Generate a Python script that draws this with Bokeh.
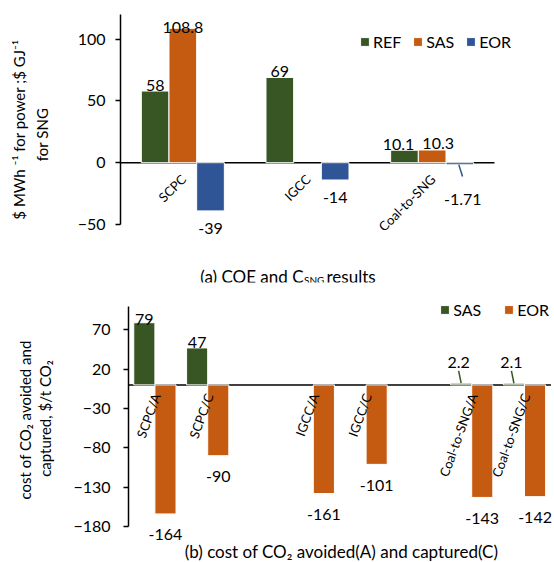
import math
from bokeh.plotting import figure
from bokeh.models import (ColumnDataSource, Range1d, FixedTicker, Legend, LegendItem)
from bokeh.layouts import column, row
from bokeh.core.properties import value
from bokeh.embed import file_html
from bokeh.resources import INLINE

# ---------------- data: (a) COE and C_SNG results ----------------
a_categories = ["SCPC", "IGCC", "Coal-to-SNG"]
a_ref = [58, 69, 10.1]
a_sas = [108.8, None, 10.3]
a_eor = [-39, -14, -1.71]
a_ticks = [-50, 0, 50, 100]

# ---------------- data: (b) cost of CO2 avoided (A) and captured (C) ----------------
b_categories = ["SCPC/A", "SCPC/C", "IGCC/A", "IGCC/C", "Coal-to-SNG/A", "Coal-to-SNG/C"]
b_sas = [79, 47, None, None, 2.2, 2.1]
b_eor = [-164, -90, -138, -101, -143, -142]
b_eor_text = ["-164", "-90", "-161", "-101", "-143", "-142"]
b_ticks = [-180, -130, -80, -30, 20, 70]

GREEN, ORANGE, BLUE = "#375623", "#C55A11", "#2F5597"
FONT = "Lato"
FS = "16px"

# category slots (None = empty gap slot on the category axis)
a_layout = list(a_categories)
b_layout = b_categories[:2] + [None] + b_categories[2:4] + [None] + b_categories[4:]
a_pos = [a_layout.index(c) + 0.5 for c in a_categories]
b_pos = [b_layout.index(c) + 0.5 for c in b_categories]

# horizontal nudges (px) for data labels that would collide
a_nudge = {("Coal-to-SNG", "REF"): -6, ("Coal-to-SNG", "SAS"): 6}


def fmt(v):
    return f"{v:g}"


def style(p, ticks, bounds, standoff, n_slots):
    ax = p.yaxis[0]
    ax.ticker = FixedTicker(ticks=ticks)
    ax.bounds = bounds
    ax.axis_line_color = "black"
    ax.axis_line_width = 1.5
    ax.major_tick_line_color = "black"
    ax.major_tick_line_width = 1.5
    ax.major_tick_in = 0
    ax.major_tick_out = 5
    ax.minor_tick_line_color = None
    ax.major_label_text_font = FONT
    ax.major_label_text_font_size = FS
    ax.major_label_text_color = "black"
    ax.major_label_standoff = standoff
    for g in p.grid:
        g.visible = False
    p.outline_line_color = None
    p.segment(x0=[0], x1=[n_slots], y0=[0], y1=[0], line_color="black", line_width=1.5)


def title_fig(width, height, top, bottom, lines):
    """Narrow figure holding the rotated y-axis title; data coords == pixel coords."""
    f = figure(width=width, height=height, x_range=Range1d(0, width),
               y_range=Range1d(height - bottom, top), x_axis_location=None,
               y_axis_location=None, toolbar_location=None, output_backend="svg",
               min_border_left=0, min_border_right=0, min_border_top=top,
               min_border_bottom=bottom)
    f.grid.visible = False
    f.outline_line_color = None
    for txt, x, y in lines:
        f.text(x=[x], y=[y], text=[txt], angle=math.pi / 2, text_align="center",
               text_baseline="middle", text_font=value(FONT), text_font_size=value("15px"),
               text_color="black")
    return f


def add_series(p, cats, pos, vals, texts, offset, width, color, ppu_x, ppu_y,
               axis_max, pos_gap, neg_gap, small, nudge=None, name=""):
    keep = [i for i, v in enumerate(vals) if v is not None]
    x = [pos[i] + offset for i in keep]
    v = [vals[i] for i in keep]
    t = [texts[i] for i in keep]
    c = [cats[i] for i in keep]
    xoff, yoff, sm = [], [], []
    for i, val in enumerate(v):
        nx = (nudge or {}).get((c[i], name), 0)
        if abs(val) < 5:
            sm.append(i)
            xoff.append(small["dx"] + nx)
            yoff.append(small["dy"] if val < 0 else -small["dy"])
        elif val > 0:
            room = (axis_max - val) * ppu_y - 13
            xoff.append(nx)
            yoff.append(-max(0.5, min(pos_gap, room)))
        else:
            xoff.append(nx)
            yoff.append(neg_gap)
    src = ColumnDataSource(dict(x=x, val=v, txt=t, xoff=xoff, yoff=yoff))
    r = p.vbar(x="x", top="val", bottom=0, width=width, source=src,
               fill_color=color, line_color="white", line_width=1)
    p.text(x="x", y="val", text="txt", x_offset="xoff", y_offset="yoff", source=src,
           text_align="center", text_baseline="alphabetic",
           text_font=value(FONT), text_font_size=value(FS), text_color="black")
    if sm:
        lead = small["lead_px"] / ppu_y
        lsrc = ColumnDataSource(dict(
            x0=[x[i] + small["l0"] / ppu_x for i in sm],
            x1=[x[i] + small["l1"] / ppu_x for i in sm],
            y0=[v[i] for i in sm],
            y1=[v[i] - lead if v[i] < 0 else v[i] + lead for i in sm]))
        p.segment(x0="x0", x1="x1", y0="y0", y1="y1", source=lsrc,
                  line_color=color, line_width=1.5)
    return r


def legend(p, items, loc, spacing):
    lg = Legend(items=[LegendItem(label=l, renderers=[r]) for l, r in items],
                orientation="horizontal", location=loc, glyph_width=11, glyph_height=11,
                label_standoff=3, spacing=spacing, padding=0, margin=0, label_height=18,
                border_line_color=None, background_fill_alpha=0,
                label_text_font=FONT, label_text_font_size=FS, label_text_color="black")
    p.add_layout(lg)


W = 554
cap_kw = dict(text_font=value(FONT), text_color="black", text_baseline="alphabetic")

# ================= chart (a) =================
A_PPU_Y = 1.2353
A_PPU_X = 374 / 3
A_LEFT = 120          # page x of the y axis
A_TW = 60             # width of the title strip
A_H, A_TOP, A_BOT = 288, 8, 6
tA = title_fig(A_TW, A_H, A_TOP, A_BOT,
               [("$ MWh \u207b\u00b9 for power ;$ GJ\u207b\u00b9", 18.5, 129),
                ("for SNG", 41, 134)])
p1 = figure(width=W - A_TW, height=A_H,
            x_range=Range1d(0, (W - A_LEFT) / A_PPU_X),
            y_range=Range1d(-96.98, 124.83), x_axis_location=None,
            toolbar_location=None, output_backend="svg",
            min_border_left=A_LEFT - A_TW, min_border_right=0,
            min_border_top=A_TOP, min_border_bottom=A_BOT)
style(p1, a_ticks, (-50, 120), 10, len(a_layout))

small_a = dict(dx=3, dy=35, lead_px=11.7, l0=-1, l1=2.7)
bw = 0.222
r_ref = add_series(p1, a_categories, a_pos, a_ref, [fmt(x) for x in a_ref], -bw, bw, GREEN,
                   A_PPU_X, A_PPU_Y, 120, 6, 17.5, small_a, a_nudge, "REF")
r_sas = add_series(p1, a_categories, a_pos, a_sas,
                   [fmt(x) if x is not None else "" for x in a_sas], 0, bw,
                   ORANGE, A_PPU_X, A_PPU_Y, 120, 6, 17.5, small_a, a_nudge, "SAS")
r_eor = add_series(p1, a_categories, a_pos, a_eor, [fmt(x) for x in a_eor], bw, bw, BLUE,
                   A_PPU_X, A_PPU_Y, 120, 6, 17.5, small_a, a_nudge, "EOR")

p1.text(x=a_pos, y=[0] * len(a_pos), text=a_categories, angle=math.pi / 4,
        x_offset=0.7, y_offset=14, text_align="right", text_baseline="middle",
        text_font=value(FONT), text_font_size=value("13px"), text_color="black")

legend(p1, [("REF", r_ref), ("SAS", r_sas), ("EOR", r_eor)], (239, 231.3), 11)

# caption (a) with subscript
xa = (303 - A_LEFT) / A_PPU_X
ya = (162.2 - 276) / A_PPU_Y
p1.text(x=[xa], y=[ya], text=["(a) COE and C"], text_align="right",
        text_font_size=value("17px"), **cap_kw)
p1.text(x=[xa], y=[ya], text=["SNG"], text_align="left", x_offset=0.5, y_offset=3,
        text_font_size=value("10px"), **cap_kw)
p1.text(x=[xa], y=[ya], text=["results"], text_align="left", x_offset=23,
        text_font_size=value("17px"), **cap_kw)

# ================= chart (b) =================
B_PPU_Y = 0.7868
B_PPU_X = 52.8
B_LEFT = 128
B_TW = 64
B_H, B_TOP, B_BOT = 274, 0, 0
B_Y0 = 288            # page y where chart (b) starts
tB = title_fig(B_TW, B_H, B_TOP, B_BOT,
               [("cost  of CO\u2082 avoided and", 24, 417.5 - B_Y0),
                ("captured, $/t CO\u2082", 44.5, 418 - B_Y0)])
p2 = figure(width=W - B_TW, height=B_H,
            x_range=Range1d(0, (W - B_LEFT) / B_PPU_X),
            y_range=Range1d(-225.7, 122.5), x_axis_location=None,
            toolbar_location=None, output_backend="svg",
            min_border_left=B_LEFT - B_TW, min_border_right=0,
            min_border_top=B_TOP, min_border_bottom=B_BOT)
style(p2, b_ticks, (-180, 100), 13, len(b_layout))

small_b = dict(dx=-2.5, dy=20.6, lead_px=12.3, l0=0, l1=-2.5)
bw2 = 0.4
r_bsas = add_series(p2, b_categories, b_pos, b_sas,
                    [fmt(x) if x is not None else "" for x in b_sas],
                    -bw2 / 2, bw2, GREEN, B_PPU_X, B_PPU_Y, 100, 5.3, 21, small_b)
r_beor = add_series(p2, b_categories, b_pos, b_eor, b_eor_text, bw2 / 2, bw2, ORANGE,
                    B_PPU_X, B_PPU_Y, 100, 5.3, 21, small_b)

p2.text(x=b_pos, y=[0] * len(b_pos), text=b_categories, angle=math.radians(70),
        x_offset=1.5, y_offset=9, text_align="right", text_baseline="middle",
        text_font=value(FONT), text_font_size=value("13px"), text_color="black")

legend(p2, [("SAS", r_bsas), ("EOR", r_beor)], (311.3, 242.7), 22)

p2.text(x=[(341 - B_LEFT) / B_PPU_X], y=[(384.4 - 551) / B_PPU_Y],
        text=["(b) cost of CO\u2082 avoided(A) and captured(C)"], text_align="center",
        text_font_size=value("17px"), **cap_kw)

layout = column(row(tA, p1), row(tB, p2))
open("out.html", "w").write(file_html(layout, INLINE))
